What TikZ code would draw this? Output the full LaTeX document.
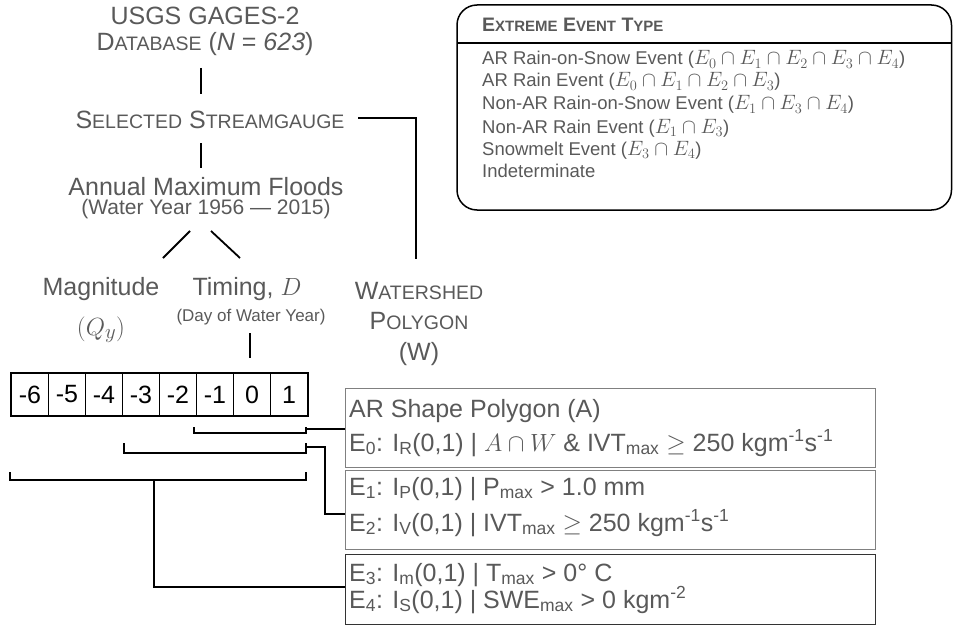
\documentclass[tikz,border=0pt]{standalone}
\usepackage{fontspec}
\setmainfont{Liberation Sans}
\definecolor{txt}{HTML}{595959}
\definecolor{bord}{HTML}{808080}
\newcommand\smc[1]{{\fontsize{19.5}{19.5}\selectfont #1}}
\newcommand\hsc[1]{{\fontsize{15}{15}\selectfont #1}}
\newcommand\bigge{{\fontsize{32}{32}\selectfont$\geq$}}
\newcommand\evm[1]{{\fontsize{21.5}{21.5}\selectfont$#1$}}
\newcommand\bxm[1]{{\fontsize{27}{27}\selectfont$#1$}}
\begin{document}
\begin{tikzpicture}[x=1pt,y=-1pt,
  lab/.style={text=txt, inner sep=0pt, anchor=base, font=\fontsize{25}{25}\selectfont},
  smalllab/.style={text=txt, inner sep=0pt, anchor=base, text height=14pt, text depth=4pt, font=\fontsize{21}{21}\selectfont},
  tinylab/.style={text=txt, inner sep=0pt, anchor=base, font=\fontsize{17}{17}\selectfont},
  evlab/.style={text=txt, inner sep=0pt, anchor=base west, text height=14pt, text depth=4pt, font=\fontsize{18.5}{18.5}\selectfont},
  boxlab/.style={text=txt, inner sep=0pt, anchor=base west, font=\fontsize{25}{25}\selectfont},
  conn/.style={line width=1.8pt, black},
  cell/.style={draw=black, line width=0.9pt, minimum width=37pt, minimum height=42pt, inner sep=0pt, anchor=north west, font=\fontsize{25}{25}\selectfont},
  condbox/.style={draw=bord, line width=1.2pt, minimum width=530pt, inner sep=0pt, anchor=north west},
]
\useasboundingbox (0,0) rectangle (953,626);

% --- left hierarchy texts
\node[lab] (usgs) at (205,25) {USGS GAGES-2};
\node[lab] (db) at (205,51) {D\smc{ATABASE} (\textit{N} = \textit{623})};
\node[lab] (sel) at (210,128) {S\smc{ELECTED} S\smc{TREAMGAUGE}};
\node[lab, text depth=0pt] (amf) at (206,195) {Annual Maximum Floods};
\node[smalllab] (wy) at (206,214) {(Water Year 1956 — 2015)};
\node[lab] (mag) at (101,295) {Magnitude};
\node[lab, font=\fontsize{31}{31}\selectfont] (qy) at (101,335) {$(Q_y)$};
\node[lab] (tim) at (247,295) {Timing, \bxm{D}};
\node[tinylab] (day) at (251,321) {(Day of Water Year)};
\node[lab] (ws1) at (419,299) {W\smc{ATERSHED}};
\node[lab] (ws2) at (419,329) {P\smc{OLYGON}};
\node[lab] (ws3) at (419,360) {(W)};

% --- connectors of hierarchy
\coordinate (dbS) at (201,68);  \coordinate (selN) at (201,94);
\coordinate (selS) at (201,143); \coordinate (amfN) at (201,168);
\coordinate (selE) at (358,118); \coordinate (wsN) at (416,259);
\coordinate (amfL) at (190,231); \coordinate (magN) at (163,258);
\coordinate (amfR) at (211,231); \coordinate (timN) at (240,258);
\coordinate (dayS) at (250,333); \coordinate (rowN) at (250,358);
\draw[conn] (dbS) -- (selN);
\draw[conn] (selS) -- (amfN);
\draw[conn] (selE) -| (wsN);
\draw[conn] (amfL) -- (magN);
\draw[conn] (amfR) -- (timN);
\draw[conn] (dayS) -- (rowN);

% --- day cells
\foreach \v [count=\i from 0] in {-6,-5,-4,-3,-2,-1,0,1}{
  \node[cell] (c\i) at ({11+37*\i},373) {\v};
}
\draw[line width=2pt] (c0.north west) rectangle (c7.south east);

% --- condition boxes
\node[condbox, minimum height=79pt] (boxA) at (345,388) {};
\node[condbox, minimum height=79pt] (boxB) at (345,470) {};
\node[condbox, draw=black!80, line width=1pt, minimum height=70pt] (boxC) at (345,554) {};

\node[boxlab] (arshape) at (349,417) {AR Shape Polygon (A)};
\node[boxlab] (e0) at (349,451) {E\textsubscript{0}: I\textsubscript{R}(0,1) | \bxm{A\cap W} \& IVT\textsubscript{max} \bigge{} 250 kgm\textsuperscript{-1}s\textsuperscript{-1}};
\node[boxlab] (e1) at (349,495) {E\textsubscript{1}: I\textsubscript{P}(0,1) | P\textsubscript{max} > 1.0 mm};
\node[boxlab] (e2) at (349,531) {E\textsubscript{2}: I\textsubscript{V}(0,1) | IVT\textsubscript{max} \bigge{} 250 kgm\textsuperscript{-1}s\textsuperscript{-1}};
\node[boxlab, text depth=3pt] (e3) at (349,581) {E\textsubscript{3}: I\textsubscript{m}(0,1) | T\textsubscript{max} > 0° C};
\node[boxlab] (e4) at (349,608) {E\textsubscript{4}: I\textsubscript{S}(0,1) | SWE\textsubscript{max} > 0 kgm\textsuperscript{-2}};

% --- brackets
\draw[conn] (194,427) -- (194,433) -- (306,433) -- (306,427);
\draw[conn] (124,443) -- (124,453) -- (306,453) -- (306,443);
\draw[conn] (10,472) -- (10,480) -- (306,480) -- (306,472);
\coordinate (b1) at (306,429);
\coordinate (b2) at (306,447);
\coordinate (b2k) at (325,447);
\coordinate (b3) at (154,480);
\draw[conn] (b1) -- (b1 -| boxA.west);
\draw[conn] (b2) -- (b2k) |- (boxB.west |- 0,514);
\draw[conn] (b3) |- (boxC.west |- 0,587);

% --- event type legend
\draw[line width=1.5pt, rounded corners=20pt] (457,5) rectangle (951.5,210);
\draw[line width=1.5pt] (457,43) -- (951.5,43);
\node[evlab, font=\fontsize{19.5}{19.5}\selectfont\bfseries] (hdr) at (482,32) {E\hsc{XTREME} E\hsc{VENT} T\hsc{YPE}};
\node[evlab] (t1) at (482,65) {AR Rain-on-Snow Event (\evm{E_0\cap E_1\cap E_2\cap E_3\cap E_4})};
\node[evlab] (t2) at (482,87) {AR Rain Event (\evm{E_0\cap E_1\cap E_2\cap E_3})};
\node[evlab] (t3) at (482,110) {Non-AR Rain-on-Snow Event (\evm{E_1\cap E_3\cap E_4})};
\node[evlab] (t4) at (482,133) {Non-AR Rain Event (\evm{E_1\cap E_3})};
\node[evlab] (t5) at (482,155) {Snowmelt Event (\evm{E_3\cap E_4})};
\node[evlab] (t6) at (482,177) {Indeterminate};
\end{tikzpicture}
\end{document}
